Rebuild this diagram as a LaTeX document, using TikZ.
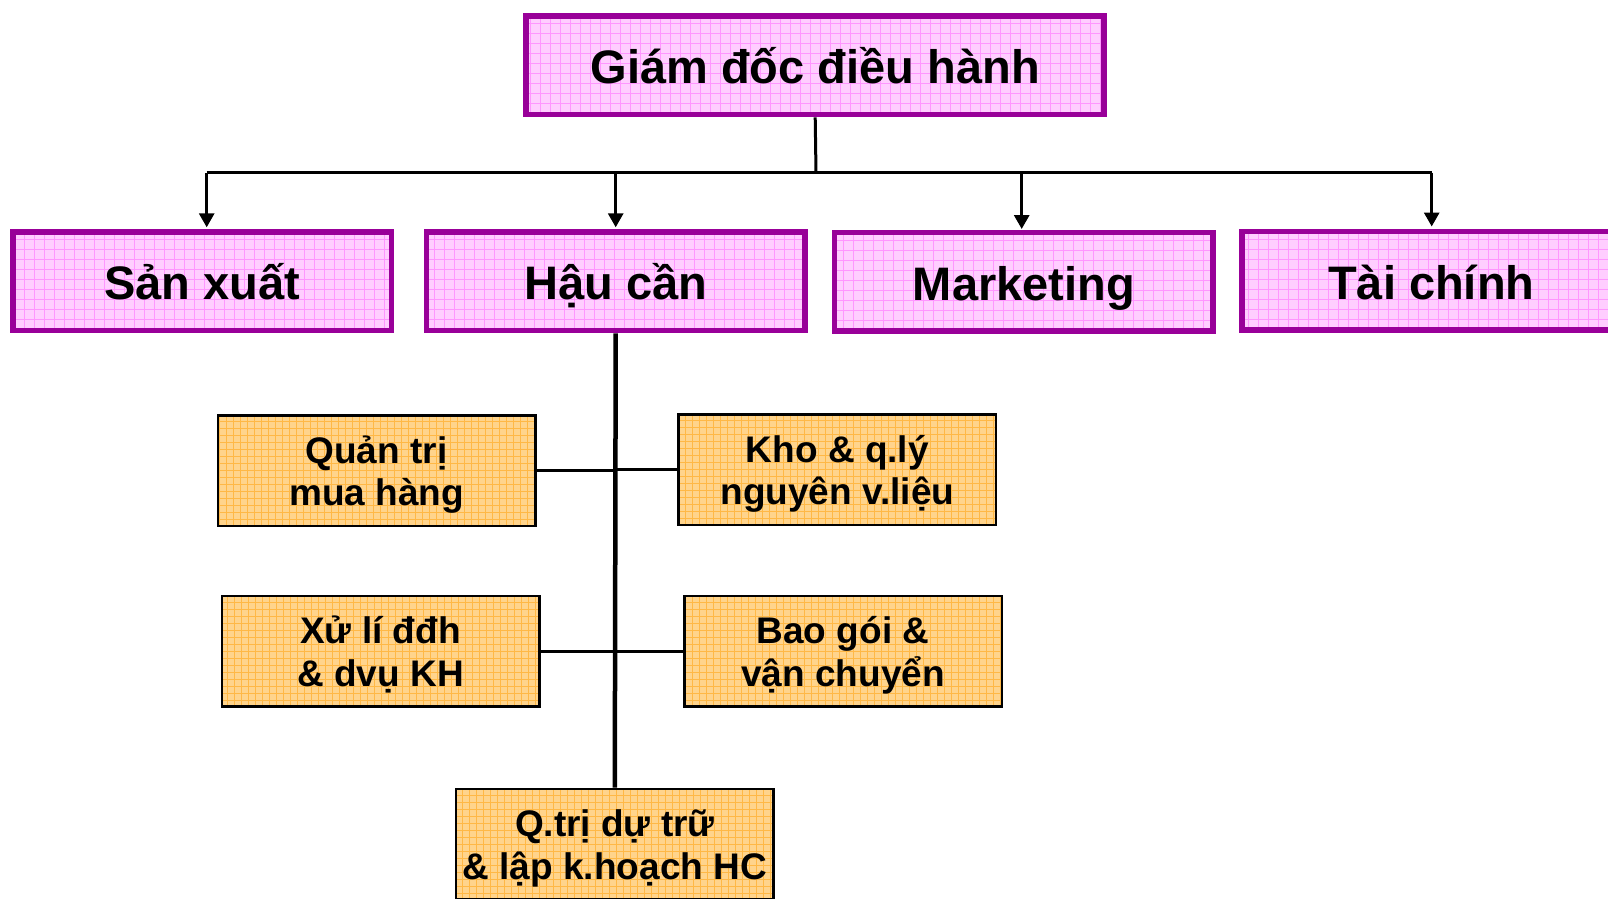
\documentclass[tikz,border=0pt]{standalone}
\usepackage{fontspec}
\setmainfont{Liberation Sans}
\usetikzlibrary{arrows.meta}

\definecolor{boxpurple}{RGB}{153,0,153}
\definecolor{pinkfill}{RGB}{255,206,255}
\definecolor{pinkgrid}{RGB}{255,150,255}
\definecolor{orangefill}{RGB}{255,212,140}
\definecolor{orangegrid}{RGB}{255,184,70}

% struts that fix the first and last line of the two-line labels
\newcommand\firstline{\rule{0pt}{38pt}}
\newcommand\lastline{\rule[-10.4pt]{0pt}{10.4pt}}
% always keep the baseline distance, even for tall accented lines
\lineskiplimit=-100pt

\tikzset{
  headbox/.style={
    rectangle, draw=boxpurple, line width=5.5pt, fill=pinkfill,
    minimum width=378.5pt, minimum height=98.5pt, inner sep=0pt,
    text height=40pt, text depth=3pt,
    font=\fontsize{47}{56}\selectfont\bfseries,
    path picture={\draw[pinkgrid, line width=0.8pt]
      (path picture bounding box.south west) grid[step=10pt]
      (path picture bounding box.north east);}
  },
  topbox/.style={headbox, minimum width=578pt},
  subbox/.style={
    rectangle, draw=black, line width=2.5pt, fill=orangefill,
    minimum width=317.5pt, minimum height=110.5pt, inner sep=0pt,
    align=center,
    font=\fontsize{37}{42.4}\selectfont\bfseries,
    path picture={\draw[orangegrid, line width=0.7pt]
      (path picture bounding box.south west) grid[step=7pt]
      (path picture bounding box.north east);}
  },
  link/.style={draw=black, line width=3pt},
  trunk/.style={draw=black, line width=4.5pt},
  arrowlink/.style={link, -{Triangle[width=15pt,length=14pt]}, shorten >=2pt}
}

\begin{document}
\begin{tikzpicture}[x=1pt, y=-1pt]
  \useasboundingbox (0,0) rectangle (1608,898);
  \clip (0,0) rectangle (1608,898);

  % top level
  \node[topbox] (ceo) at (815.2,65.3) {Giám đốc điều hành};

  % departments
  \node[headbox] (sx) at (202.2,281.3) {Sản xuất};
  \node[headbox] (hc) at (615.7,281.3) {Hậu cần};
  \node[headbox] (mk) at (1023.9,281.6) {Marketing};
  \node[headbox] (tc) at (1431.3,280.5) {Tài chính};

  % logistics functions
  \node[subbox] (mh)  at (376.5,470.7) {\firstline Quản trị\\mua hàng\lastline};
  \node[subbox] (kho) at (837.3,469.7) {\firstline Kho \& q.lý\\nguyên v.liệu\lastline};
  \node[subbox] (dh)  at (380.5,651.2) {\firstline Xử lí đđh\\\& dvụ KH\lastline};
  \node[subbox] (vc)  at (843.0,651.2) {\firstline Bao gói \&\\vận chuyển\lastline};
  \node[subbox] (dt)  at (614.8,844.0) {\firstline Q.trị dự trữ\\\& lập k.hoạch HC\lastline};

  % distribution bus under the director
  \coordinate (bus) at (816,172.7);
  \coordinate (bsx) at (206.7,172.7);
  \coordinate (btc) at (1431.7,172.7);
  \draw[link] (ceo.south) -- (bus);
  \draw[link] (bsx) -- (btc);
  \draw[arrowlink] (bsx) -- (bsx |- sx.north);
  \draw[arrowlink] (hc.north |- bus) -- (hc.north);
  \draw[arrowlink] (1021.7,172.7) -- (1021.7,231);
  \draw[arrowlink] (btc) -- (btc |- tc.north);

  % logistics trunk and branches
  \draw[trunk] (hc.south) -- (dt.north);
  \draw[link] (mh.east) -- (mh.east -| hc.south);
  \draw[link] (kho.west) -- (kho.west -| hc.south);
  \draw[link] (dh.east) -- (dh.east -| hc.south);
  \draw[link] (vc.west) -- (vc.west -| hc.south);
\end{tikzpicture}
\end{document}
